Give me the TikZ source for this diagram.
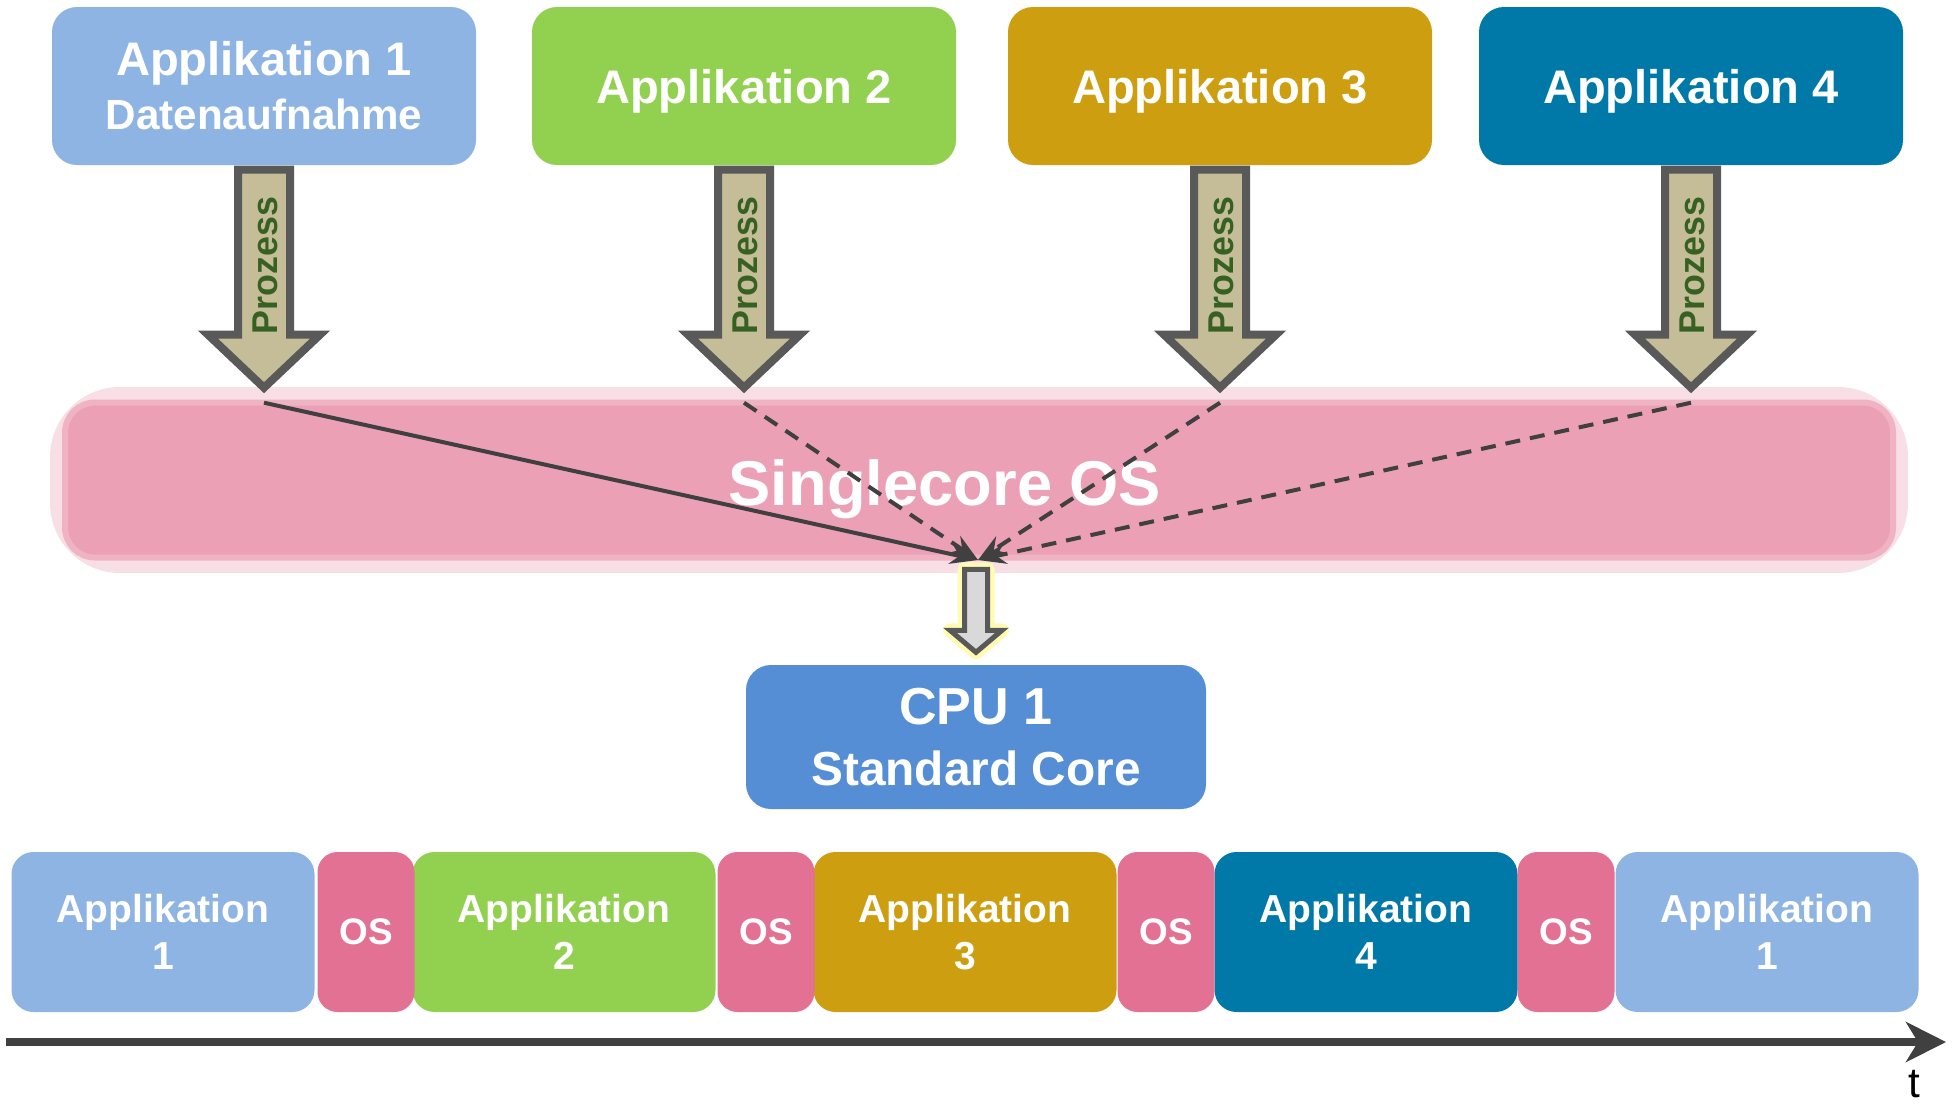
\documentclass[tikz,border=0pt]{standalone}
\usepackage{fontspec}
\setmainfont{Liberation Sans}
\usetikzlibrary{arrows.meta,calc}

\definecolor{appA}{HTML}{8EB4E3}
\definecolor{appB}{HTML}{92D050}
\definecolor{appC}{HTML}{CC9E10}
\definecolor{appD}{HTML}{0079A8}
\definecolor{osPink}{HTML}{EBA0B5}
\definecolor{osSlot}{HTML}{E37194}
\definecolor{cpuBlue}{HTML}{558ED5}
\definecolor{procFill}{HTML}{C4BD97}
\definecolor{procLine}{HTML}{595959}
\definecolor{procText}{HTML}{376123}
\definecolor{darkLine}{HTML}{404040}

\tikzset{
  appbox/.style={rounded corners=2.5mm,minimum width=42.4mm,minimum height=15.8mm,inner sep=0pt,align=center,text=white,font=\bfseries\fontsize{13.4}{15.4}\selectfont},
  onerow/.style={text height=12.6pt,text depth=2.8pt},
  procarrow/.style={fill=procFill,draw=procLine,line width=0.8mm,line join=miter},
  proctext/.style={text=procText,font=\bfseries\fontsize{10.2}{12}\selectfont,inner sep=0pt},
  osglow/.style={fill=osPink!35,rounded corners=7mm,minimum width=185.8mm,minimum height=18.6mm},
  osband/.style={fill=osPink,draw=osPink!80,line width=0.6mm,rounded corners=3mm,minimum width=182.8mm,minimum height=15.5mm},
  ostitle/.style={text=white,font=\bfseries\fontsize{18}{20}\selectfont,inner sep=0pt},
  feed/.style={draw=darkLine,line width=0.4mm,line cap=butt,-{Stealth[length=2.8mm,width=2mm]}},
  feeddash/.style={feed,dash pattern=on 1.5mm off 1mm},
  cpuglow/.style={draw=yellow!30,line width=1.4mm,line join=round},
  cpuarrow/.style={fill=black!15,draw=procLine,line width=0.5mm,line join=miter},
  cpubox/.style={fill=cpuBlue,rounded corners=2.5mm,minimum width=46mm,minimum height=14.4mm,inner sep=0pt,align=center,text=white,font=\bfseries\fontsize{13.6}{17.4}\selectfont},
  slotapp/.style={rounded corners=2.2mm,minimum width=30.3mm,minimum height=16mm,inner sep=0pt,align=center,text=white,font=\bfseries\fontsize{11.1}{13.4}\selectfont},
  slotos/.style={fill=osSlot,rounded corners=2mm,minimum width=9.7mm,minimum height=16mm,inner sep=0pt,text=white,font=\bfseries\fontsize{10.5}{12}\selectfont},
  timeaxis/.style={draw=darkLine,line width=0.8mm,line cap=butt,-{Stealth[length=4mm,width=4mm,inset=1.2mm]}}
}

\begin{document}
\begin{tikzpicture}[line cap=round,line join=round,x=0.1mm,y=-0.1mm]
\useasboundingbox (0,0) rectangle (1955,1104);

% applications
\node[appbox,fill=appA] (app1) at (264,86) {Applikation 1\\{\fontsize{12}{15.4}\selectfont Datenaufnahme}};
\node[appbox,onerow,fill=appB] (app2) at (744,86) {Applikation 2};
\node[appbox,onerow,fill=appC] (app3) at (1220,86) {Applikation 3};
\node[appbox,onerow,fill=appD] (app4) at (1691,86) {Applikation 4};

% OS layer
\node[osglow] (osglow) at (979,480) {};
\node[osband] (os) at (979,480) {};
\node[ostitle] (ostitle) at (945,489) {Singlecore OS};

% processes
\foreach \i in {1,...,4}{
  \draw[procarrow] ($(app\i.south)+(-26,4)$) -- ++(0,165) -- ++(-30,0)
    -- ($(app\i.south)+(0,222)$) -- ($(app\i.south)+(56,169)$) -- ++(-30,0)
    -- ($(app\i.south)+(26,4)$) -- cycle;
  \node[proctext,rotate=90] (prz\i) at ($(app\i.south)+(1,100)$) {Prozess};
  \coordinate (tip\i) at ($(app\i.south)+(0,237)$);
}

\coordinate (hub) at (978,560);
\draw[feed] (tip1) -- (hub);
\foreach \i in {2,3,4}
  \draw[feeddash] (tip\i) -- (hub);

% cpu
\node[cpubox] (cpu) at (976,737) {{\fontsize{14.8}{17.4}\selectfont CPU 1}\\Standard Core};
\foreach \s in {cpuglow,cpuarrow}
  \draw[\s] ($(cpu.north)+(-11.5,-95)$) -- ++(0,61) -- ++(-14.5,0)
    -- ($(cpu.north)+(0,-12)$) -- ($(cpu.north)+(26,-34)$) -- ++(-14.5,0)
    -- ($(cpu.north)+(11.5,-95)$) -- cycle;

% time slots
\foreach \k/\c/\n in {0/appA/1,1/appB/2,2/appC/3,3/appD/4,4/appA/1}
  \node[slotapp,fill=\c] (slot\k) at ({163+401*\k},932) {Applikation\\\n};
\foreach \k in {0,...,3}
  \node[slotos] (sos\k) at ({366+400*\k},932) {OS};

\coordinate (t0) at (6,1042);
\coordinate (t1) at (1946,1042);
\draw[timeaxis] (t0) -- (t1);
\node[font=\fontsize{12}{14}\selectfont,inner sep=0pt] (tlabel) at (1914,1084) {t};
\end{tikzpicture}
\end{document}
